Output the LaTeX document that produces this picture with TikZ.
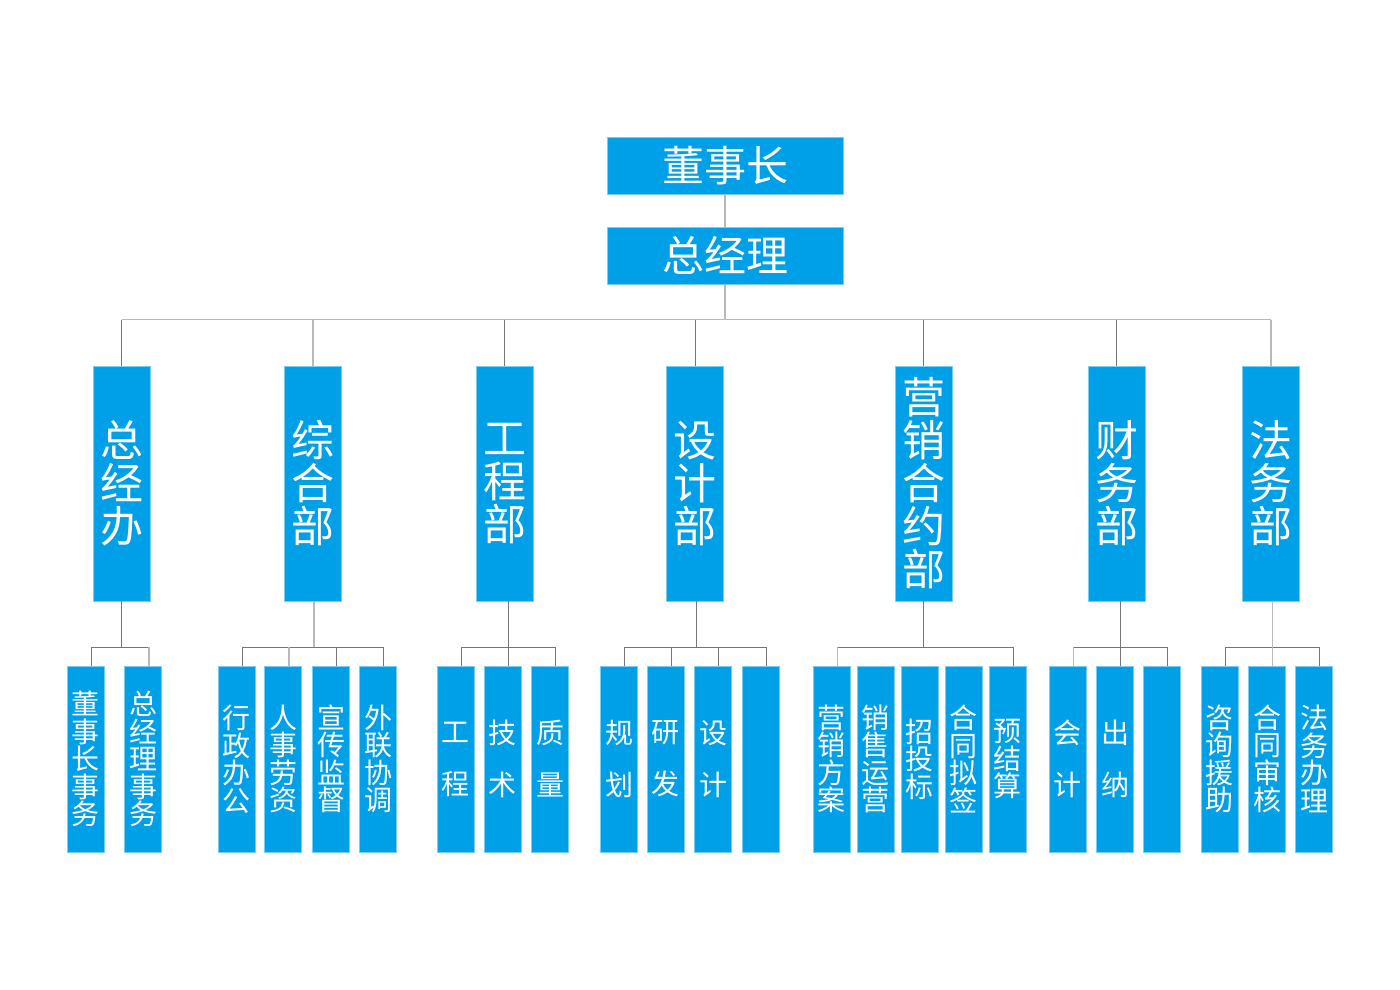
\documentclass[tikz,border=0pt]{standalone}
\usepackage{fontspec}
\setmainfont{Noto Sans CJK SC}
\usetikzlibrary{positioning,calc}
\definecolor{orgblue}{RGB}{0,160,233}
\definecolor{orgedge}{RGB}{120,205,242}
\definecolor{linelight}{RGB}{185,185,185}
\definecolor{linedark}{RGB}{118,118,118}

\begin{document}
\begin{tikzpicture}[x=0.5pt,y=-0.5pt,
  box/.style={draw=orgedge, line width=0.4pt, fill=orgblue, text=white, inner sep=0pt, align=center},
  topbox/.style={box, minimum width=118pt, minimum height=28.5pt, font=\fontsize{21pt}{21pt}\selectfont},
  deptbox/.style={box, minimum width=28.5pt, minimum height=117.5pt, font=\fontsize{21.5pt}{21.5pt}\selectfont},
  subbox/.style={box, minimum width=18.5pt, minimum height=93pt, font=\fontsize{14pt}{13.75pt}\selectfont},
  widebox/.style={subbox, font=\fontsize{14pt}{26pt}\selectfont},
  lite/.style={linelight, line width=0.7pt},
  dark/.style={linedark, line width=0.5pt}]
\fill[white] (0,0) rectangle (1400,989);
\useasboundingbox (0,0) rectangle (1400,989);

% Top
\node[topbox] (chair) at (725,165.5) {董事长};
\node[topbox] (gm) at (725,255.5) {总经理};
\draw[lite] (chair) -- (gm);

% Departments
\node[deptbox] (zjb) at (121.5,483.5) {总\\经\\办};
\node[deptbox] (zhb) at (313,483.5) {综\\合\\部};
\node[deptbox] (gcb) at (504.5,483.5) {工\\程\\部};
\node[deptbox] (sjb) at (695,483.5) {设\\计\\部};
\node[deptbox] (yxb) at (923.5,483.5) {营\\销\\合\\约\\部};
\node[deptbox] (cwb) at (1116.5,483.5) {财\\务\\部};
\node[deptbox] (fwb) at (1271,483.5) {法\\务\\部};

% Bus
\draw[lite] (gm.south) -- ++(0,36);
\draw[lite] ([yshift=23pt]zjb.north) -- ([yshift=23pt]fwb.north);
\foreach \n/\s in {zjb/dark,zhb/lite,gcb/dark,sjb/dark,yxb/dark,cwb/dark,fwb/lite}
  \draw[\s] (\n.north) -- ++(0,-46);

% Sub units
\node[subbox] (zjb1) at (85.7,759) {董\\事\\长\\事\\务};
\node[subbox] (zjb2) at (143.3,759) {总\\经\\理\\事\\务};

\node[subbox] (zhb1) at (236.8,759) {行\\政\\办\\公};
\node[subbox] (zhb2) at (283.3,759) {人\\事\\劳\\资};
\node[subbox] (zhb3) at (331,759) {宣\\传\\监\\督};
\node[subbox] (zhb4) at (378.3,759) {外\\联\\协\\调};

\node[widebox] (gcb1) at (455.7,759) {工\\程};
\node[widebox] (gcb2) at (502.7,759) {技\\术};
\node[widebox] (gcb3) at (550,759) {质\\量};

\node[widebox] (sjb1) at (619.2,759) {规\\划};
\node[widebox] (sjb2) at (665.8,759) {研\\发};
\node[widebox] (sjb3) at (713.2,759) {设\\计};
\node[widebox] (sjb4) at (760.5,759) {};

\node[subbox] (yxb1) at (831.7,759) {营\\销\\方\\案};
\node[subbox] (yxb2) at (875.7,759) {销\\售\\运\\营};
\node[subbox] (yxb3) at (919.7,759) {招\\投\\标};
\node[subbox] (yxb4) at (963.7,759) {合\\同\\拟\\签};
\node[subbox] (yxb5) at (1007.7,759) {预\\结\\算};

\node[widebox] (cwb1) at (1067.7,759) {会\\计};
\node[widebox] (cwb2) at (1115,759) {出\\纳};
\node[widebox] (cwb3) at (1162.3,759) {};

\node[subbox] (fwb1) at (1219.5,759) {咨\\询\\援\\助};
\node[subbox] (fwb2) at (1267,759) {合\\同\\审\\核};
\node[subbox] (fwb3) at (1314,759) {法\\务\\办\\理};

% Drops below departments
\foreach \n/\d/\s in {zjb/0/dark,zhb/0.5/lite,gcb/1.8/dark,sjb/0.65/dark,yxb/0/dark,cwb/1.9/dark,fwb/0.85/lite}
  \draw[\s] ([xshift=\d pt]\n.south) -- ++(0,46.5);

% Brackets
\foreach \a/\b in {zjb1/zjb2,zhb1/zhb4,gcb1/gcb3,sjb1/sjb4,yxb1/yxb5,cwb1/cwb3,fwb1/fwb3}
  \draw[dark] ([xshift=2.75pt,yshift=9.25pt]\a.north) -- ([xshift=2.75pt,yshift=9.25pt]\b.north);
\foreach \n/\s in {zjb1/dark,zjb2/lite,zhb1/dark,zhb2/lite,zhb3/dark,zhb4/dark,
    gcb1/dark,gcb2/dark,gcb3/dark,sjb1/dark,sjb2/dark,sjb3/dark,sjb4/dark,
    yxb1/lite,yxb5/dark,cwb1/lite,cwb2/dark,cwb3/dark,fwb1/dark,fwb2/lite,fwb3/dark}
  \draw[\s] ([xshift=2.75pt]\n.north) -- ++(0,-18.5);
\end{tikzpicture}
\end{document}
